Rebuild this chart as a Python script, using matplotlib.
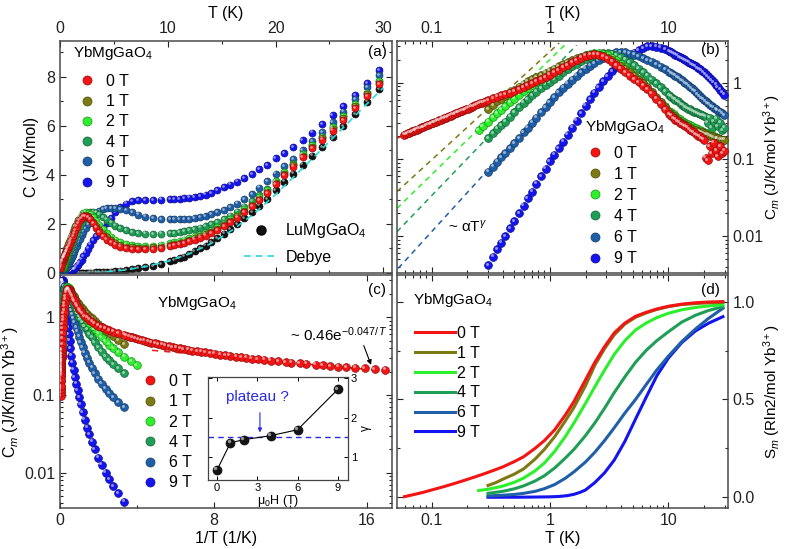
import numpy as np
import matplotlib
matplotlib.use("Agg")
import matplotlib.pyplot as plt
import matplotlib.ticker as mticker
import matplotlib.colors as mcolors
from matplotlib.lines import Line2D
from matplotlib.transforms import offset_copy

plt.rcParams["font.family"] = ["Liberation Sans", "DejaVu Sans"]
plt.rcParams["mathtext.fontset"] = "custom"
plt.rcParams["mathtext.rm"] = "Liberation Sans"
plt.rcParams["mathtext.it"] = "Liberation Sans:italic"
plt.rcParams["font.size"] = 11

# ── data ──────────────────────────────────────────────────────────────────────
fields = ["0 T", "1 T", "2 T", "4 T", "6 T", "9 T"]
colors = ["#f41414", "#7d7a12", "#2cf02c", "#1f9e55", "#1f5fa8", "#1414f0"]

# common temperature grid (K), 0.3 -> 29.6
T_grid = [0.30, 0.33, 0.36, 0.39, 0.42, 0.46, 0.50, 0.55, 0.60, 0.65,
          0.71, 0.77, 0.84, 0.92, 1.00, 1.09, 1.19, 1.30, 1.41, 1.54,
          1.68, 1.83, 2.00, 2.18, 2.37, 2.58, 2.82, 3.07, 3.35, 3.65,
          3.98, 4.33, 4.72, 5.15, 5.61, 6.12, 6.67, 7.27, 7.92, 8.63,
          9.41, 10.2, 10.6, 11.1, 11.5, 12.0, 12.5, 13.0, 13.5, 14.0,
          14.6, 15.2, 15.8, 16.4, 17.1, 17.8, 18.5, 19.2, 20.0, 20.8,
          21.6, 22.5, 23.4, 24.3, 25.3, 26.3, 27.4, 28.5, 29.6]

# magnetic heat capacity C_m (J/K/mol Yb) on T_grid, panels (b) and (c)
cm_0T = [0.595, 0.625, 0.655, 0.685, 0.71, 0.745, 0.78, 0.83, 0.88, 0.93,
         0.99, 1.04, 1.11, 1.19, 1.27, 1.36, 1.46, 1.58, 1.70, 1.84,
         1.98, 2.12, 2.24, 2.31, 2.34, 2.31, 2.22, 2.07, 1.88, 1.70,
         1.53, 1.38, 1.24, 1.12, 1.01, 0.91, 0.82, 0.72, 0.62, 0.53,
         0.45, 0.39, 0.37, 0.345, 0.33, 0.315, 0.30, 0.29, 0.28, 0.27,
         0.26, 0.245, 0.235, 0.225, 0.215, 0.205, 0.20, 0.19, 0.18, 0.105,
         0.097, 0.15, 0.12, 0.165, 0.13, 0.11, 0.15, 0.12, 0.13]
cm_1T = [0.45, 0.51, 0.57, 0.62, 0.67, 0.74, 0.81, 0.89, 0.97, 1.04,
         1.11, 1.18, 1.26, 1.35, 1.44, 1.53, 1.63, 1.74, 1.85, 1.97,
         2.09, 2.19, 2.27, 2.32, 2.34, 2.31, 2.24, 2.12, 1.97, 1.82,
         1.66, 1.52, 1.37, 1.23, 1.10, 0.98, 0.87, 0.76, 0.65, 0.56,
         0.48, 0.42, 0.39, 0.37, 0.35, 0.33, 0.31, 0.30, 0.29, 0.28,
         0.27, 0.26, 0.25, 0.245, 0.24, 0.235, 0.23, 0.225, 0.22, 0.215,
         0.21, 0.205, 0.20, 0.195, 0.19, 0.19, 0.185, 0.18, 0.18]
cm_2T = [0.31, 0.355, 0.40, 0.445, 0.49, 0.555, 0.62, 0.70, 0.78, 0.85,
         0.93, 1.01, 1.09, 1.19, 1.29, 1.40, 1.52, 1.65, 1.78, 1.92,
         2.06, 2.19, 2.30, 2.38, 2.42, 2.42, 2.37, 2.27, 2.12, 1.95,
         1.78, 1.60, 1.43, 1.27, 1.12, 0.98, 0.86, 0.75, 0.64, 0.56,
         0.49, 0.43, 0.41, 0.39, 0.37, 0.35, 0.34, 0.32, 0.31, 0.30,
         0.29, 0.28, 0.27, 0.26, 0.255, 0.25, 0.24, 0.235, 0.23, 0.22,
         0.215, 0.21, 0.205, 0.20, 0.195, 0.19, 0.185, 0.18, 0.18]
cm_4T = [0.19, 0.22, 0.25, 0.28, 0.31, 0.36, 0.41, 0.48, 0.55, 0.61,
         0.69, 0.76, 0.85, 0.94, 1.02, 1.12, 1.24, 1.37, 1.50, 1.64,
         1.78, 1.92, 2.06, 2.19, 2.31, 2.40, 2.45, 2.44, 2.38, 2.28,
         2.15, 2.00, 1.84, 1.68, 1.52, 1.37, 1.23, 1.10, 0.98, 0.87,
         0.77, 0.69, 0.66, 0.62, 0.60, 0.57, 0.55, 0.52, 0.50, 0.48,
         0.46, 0.45, 0.43, 0.42, 0.41, 0.40, 0.39, 0.38, 0.37, 0.36,
         0.30, 0.35, 0.26, 0.31, 0.34, 0.27, 0.30, 0.24, 0.26]
cm_6T = [0.069, 0.08, 0.093, 0.106, 0.12, 0.14, 0.162, 0.19, 0.225, 0.26,
         0.30, 0.35, 0.41, 0.48, 0.56, 0.65, 0.75, 0.86, 0.97, 1.10,
         1.24, 1.37, 1.52, 1.67, 1.81, 1.96, 2.12, 2.27, 2.40, 2.49,
         2.52, 2.48, 2.40, 2.31, 2.21, 2.10, 1.98, 1.87, 1.75, 1.62,
         1.50, 1.39, 1.34, 1.28, 1.23, 1.18, 1.13, 1.08, 1.03, 0.99,
         0.94, 0.89, 0.85, 0.80, 0.76, 0.71, 0.67, 0.63, 0.60, 0.57,
         0.54, 0.52, 0.49, 0.47, 0.45, 0.43, 0.42, 0.40, 0.38]
cm_9T = [0.0042, 0.0054, 0.0067, 0.0082, 0.0100, 0.0126, 0.0156, 0.020, 0.025, 0.031,
         0.038, 0.048, 0.060, 0.076, 0.094, 0.115, 0.14, 0.17, 0.21, 0.26,
         0.32, 0.40, 0.50, 0.61, 0.74, 0.88, 1.04, 1.22, 1.41, 1.60,
         1.80, 2.02, 2.24, 2.46, 2.66, 2.84, 2.97, 3.00, 2.95, 2.86,
         2.72, 2.56, 2.48, 2.39, 2.32, 2.24, 2.16, 2.09, 2.02, 1.96,
         1.89, 1.82, 1.76, 1.70, 1.63, 1.56, 1.49, 1.43, 1.36, 1.29,
         1.22, 1.15, 1.08, 1.01, 0.94, 0.87, 0.81, 0.75, 0.70]

# 0 T dilution-fridge points below 0.3 K
T_low_0T = [0.059, 0.061, 0.063, 0.065, 0.067, 0.069, 0.071, 0.073, 0.075, 0.078,
            0.080, 0.083, 0.085, 0.088, 0.091, 0.094, 0.097, 0.100, 0.103, 0.106,
            0.109, 0.113, 0.116, 0.120, 0.124, 0.128, 0.132, 0.136, 0.140, 0.145,
            0.150, 0.155, 0.160, 0.165, 0.170, 0.176, 0.182, 0.188, 0.195, 0.202,
            0.210, 0.218, 0.226, 0.235, 0.245, 0.255, 0.265, 0.275, 0.287]
cm_low_0T = [0.210, 0.215, 0.219, 0.223, 0.228, 0.232, 0.236, 0.241, 0.245, 0.251,
             0.255, 0.261, 0.265, 0.271, 0.277, 0.283, 0.289, 0.294, 0.300, 0.306,
             0.311, 0.318, 0.324, 0.331, 0.338, 0.345, 0.352, 0.358, 0.365, 0.373,
             0.382, 0.390, 0.398, 0.406, 0.413, 0.423, 0.432, 0.441, 0.451, 0.461,
             0.473, 0.485, 0.496, 0.509, 0.522, 0.536, 0.549, 0.562, 0.578]
T_start_2T = [0.25, 0.27]
cm_start_2T = [0.24, 0.27]

# total heat capacity C (J/K/mol) on T_grid, panel (a)
c_0T = [0.59, 0.625, 0.655, 0.685, 0.71, 0.745, 0.78, 0.83, 0.88, 0.93,
        0.99, 1.05, 1.12, 1.20, 1.29, 1.39, 1.50, 1.62, 1.75, 1.89,
        2.02, 2.14, 2.24, 2.31, 2.33, 2.29, 2.19, 2.03, 1.85, 1.67,
        1.50, 1.36, 1.25, 1.16, 1.08, 1.02, 0.98, 0.96, 0.96, 0.98,
        1.02, 1.09, 1.13, 1.18, 1.23, 1.29, 1.36, 1.44, 1.52, 1.61,
        1.74, 1.90, 2.07, 2.26, 2.48, 2.72, 2.97, 3.26, 3.62, 3.98,
        4.33, 4.72, 5.08, 5.43, 5.80, 6.24, 6.72, 7.20, 7.68]
c_1T = [0.45, 0.51, 0.57, 0.62, 0.67, 0.74, 0.81, 0.89, 0.97, 1.04,
        1.11, 1.18, 1.26, 1.35, 1.45, 1.55, 1.66, 1.78, 1.90, 2.03,
        2.15, 2.26, 2.34, 2.38, 2.37, 2.32, 2.22, 2.08, 1.92, 1.76,
        1.60, 1.46, 1.34, 1.24, 1.15, 1.08, 1.04, 1.02, 1.02, 1.04,
        1.08, 1.14, 1.18, 1.23, 1.28, 1.34, 1.41, 1.49, 1.57, 1.66,
        1.80, 1.95, 2.12, 2.31, 2.53, 2.77, 3.03, 3.32, 3.68, 4.04,
        4.39, 4.78, 5.14, 5.50, 5.88, 6.32, 6.80, 7.28, 7.76]
c_2T = [0.31, 0.355, 0.40, 0.445, 0.49, 0.555, 0.62, 0.70, 0.78, 0.85,
        0.93, 1.01, 1.10, 1.20, 1.31, 1.43, 1.56, 1.70, 1.84, 1.99,
        2.13, 2.26, 2.37, 2.44, 2.47, 2.45, 2.39, 2.28, 2.13, 1.97,
        1.80, 1.63, 1.48, 1.36, 1.26, 1.18, 1.13, 1.10, 1.10, 1.12,
        1.16, 1.22, 1.26, 1.31, 1.36, 1.42, 1.49, 1.56, 1.64, 1.73,
        1.86, 2.01, 2.18, 2.37, 2.59, 2.83, 3.09, 3.38, 3.74, 4.10,
        4.45, 4.84, 5.20, 5.56, 5.95, 6.39, 6.87, 7.35, 7.83]
c_4T = [0.19, 0.22, 0.25, 0.28, 0.31, 0.36, 0.41, 0.48, 0.55, 0.61,
        0.69, 0.76, 0.85, 0.94, 1.03, 1.13, 1.25, 1.38, 1.51, 1.65,
        1.79, 1.93, 2.07, 2.20, 2.32, 2.41, 2.47, 2.49, 2.46, 2.39,
        2.29, 2.17, 2.05, 1.93, 1.83, 1.75, 1.68, 1.63, 1.60, 1.59,
        1.60, 1.62, 1.64, 1.67, 1.70, 1.74, 1.79, 1.85, 1.91, 1.98,
        2.08, 2.20, 2.34, 2.50, 2.70, 2.92, 3.16, 3.42, 3.76, 4.10,
        4.45, 4.84, 5.20, 5.55, 5.94, 6.38, 6.86, 7.34, 7.83]
c_6T = [0.07, 0.08, 0.093, 0.106, 0.12, 0.14, 0.162, 0.19, 0.225, 0.26,
        0.30, 0.35, 0.41, 0.48, 0.56, 0.65, 0.75, 0.86, 0.98, 1.11,
        1.25, 1.39, 1.54, 1.69, 1.84, 1.99, 2.14, 2.28, 2.41, 2.52,
        2.60, 2.64, 2.65, 2.64, 2.60, 2.55, 2.47, 2.38, 2.30, 2.24,
        2.20, 2.18, 2.18, 2.18, 2.19, 2.21, 2.24, 2.28, 2.33, 2.39,
        2.47, 2.57, 2.69, 2.83, 3.00, 3.20, 3.48, 3.74, 4.05, 4.35,
        4.64, 5.00, 5.37, 5.74, 6.14, 6.57, 7.07, 7.57, 8.05]
c_9T = [0.004, 0.005, 0.007, 0.008, 0.01, 0.013, 0.016, 0.02, 0.025, 0.031,
        0.038, 0.048, 0.06, 0.076, 0.094, 0.115, 0.14, 0.17, 0.21, 0.27,
        0.34, 0.43, 0.55, 0.68, 0.83, 0.99, 1.16, 1.33, 1.50, 1.67,
        1.85, 2.04, 2.25, 2.47, 2.67, 2.83, 2.93, 2.97, 2.98, 2.98,
        2.99, 3.00, 3.01, 3.02, 3.04, 3.07, 3.10, 3.14, 3.19, 3.25,
        3.38, 3.50, 3.60, 3.72, 3.87, 4.02, 4.22, 4.40, 4.68, 4.88,
        5.12, 5.42, 5.72, 6.05, 6.42, 6.80, 7.25, 7.72, 8.25]
c_lu = [0.0, 0.0, 0.0, 0.0, 0.0, 0.0, 0.0, 0.0, 0.0, 0.0,
        0.0, 0.0, 0.0, 0.0, 0.0, 0.001, 0.001, 0.001, 0.002, 0.002,
        0.003, 0.004, 0.005, 0.006, 0.008, 0.010, 0.013, 0.017, 0.022, 0.028,
        0.036, 0.046, 0.060, 0.075, 0.095, 0.12, 0.15, 0.19, 0.235, 0.29,
        0.37, 0.47, 0.53, 0.60, 0.67, 0.77, 0.88, 1.00, 1.12, 1.25,
        1.42, 1.60, 1.80, 2.00, 2.24, 2.48, 2.74, 3.02, 3.38, 3.72,
        4.05, 4.42, 4.78, 5.12, 5.52, 5.98, 6.48, 6.98, 7.48]
T_a_low_0T = [0.06, 0.10, 0.15, 0.20, 0.25]
c_a_low_0T = [0.21, 0.29, 0.38, 0.46, 0.53]

T_debye = [0, 2, 4, 6, 8, 10, 12, 14, 16, 18, 20, 22, 24, 26, 28, 30]
c_debye = [0, 0.004, 0.035, 0.12, 0.27, 0.48, 0.78, 1.2, 1.75, 2.42,
           3.2, 4.05, 4.92, 5.8, 6.68, 7.55]

# power-law fits C_m ~ alpha T^gamma (end points), panel (b)
fit_T = {"0 T": [0.0505, 0.062], "1 T": [0.051, 1.2], "2 T": [0.051, 1.38],
         "4 T": [0.051, 1.68], "6 T": [0.0523, 0.29]}
fit_cm = {"0 T": [0.188, 0.215], "1 T": [0.038, 3.3], "2 T": [0.023, 3.26],
          "4 T": [0.0114, 3.1], "6 T": [0.0038, 0.069]}
# exponential fit 0.46 exp(-0.047/T), panel (c)
exp_fit_x = [4.8, 17.3]
exp_fit_y = [0.375, 0.20]

# magnetic entropy (R ln2 / mol Yb), panel (d)
S_T = {
    "0 T": [0.059, 0.07, 0.085, 0.1, 0.12, 0.15, 0.18, 0.22, 0.27, 0.33, 0.4, 0.5, 0.6, 0.75,
            0.9, 1.1, 1.35, 1.6, 2.0, 2.4, 2.9, 3.5, 4.3, 5.3, 6.5, 8, 10, 13, 17, 22, 29],
    "1 T": [0.3, 0.35, 0.4, 0.5, 0.6, 0.75, 0.9, 1.1, 1.35, 1.6, 2.0, 2.4, 2.9, 3.5, 4.3,
            5.3, 6.5, 8, 10, 13, 17, 22, 29],
    "2 T": [0.25, 0.3, 0.35, 0.4, 0.5, 0.6, 0.75, 0.9, 1.1, 1.35, 1.6, 2.0, 2.4, 2.9, 3.5,
            4.3, 5.3, 6.5, 8, 10, 13, 17, 22, 29],
    "4 T": [0.3, 0.4, 0.5, 0.6, 0.75, 0.9, 1.1, 1.35, 1.6, 2.0, 2.4, 2.9, 3.5, 4.3, 5.3,
            6.5, 8, 10, 13, 17, 22, 29],
    "6 T": [0.3, 0.4, 0.5, 0.6, 0.75, 0.9, 1.1, 1.35, 1.6, 2.0, 2.4, 2.9, 3.5, 4.3, 5.3,
            6.5, 8, 10, 13, 17, 22, 29],
    "9 T": [0.3, 0.5, 0.75, 1.0, 1.2, 1.4, 1.6, 1.8, 2.0, 2.4, 2.9, 3.5, 4.3, 5.3, 6.5,
            8, 10, 13, 17, 22, 29],
}
S_val = {
    "0 T": [0.003, 0.013, 0.025, 0.037, 0.05, 0.067, 0.082, 0.099, 0.117, 0.136, 0.155, 0.182,
            0.207, 0.25, 0.29, 0.345, 0.42, 0.49, 0.60, 0.69, 0.77, 0.84, 0.89, 0.925, 0.945,
            0.962, 0.976, 0.987, 0.994, 0.998, 1.0],
    "1 T": [0.06, 0.075, 0.092, 0.118, 0.145, 0.195, 0.245, 0.31, 0.39, 0.46, 0.57, 0.675,
            0.76, 0.83, 0.885, 0.92, 0.942, 0.96, 0.974, 0.985, 0.99, 0.994, 0.996],
    "2 T": [0.034, 0.041, 0.049, 0.057, 0.076, 0.098, 0.135, 0.175, 0.235, 0.31, 0.38, 0.48,
            0.565, 0.65, 0.73, 0.80, 0.855, 0.89, 0.918, 0.94, 0.958, 0.97, 0.978, 0.984],
    "4 T": [0.02, 0.03, 0.043, 0.058, 0.083, 0.11, 0.15, 0.20, 0.245, 0.315, 0.38, 0.455,
            0.535, 0.615, 0.69, 0.75, 0.80, 0.845, 0.895, 0.93, 0.955, 0.974],
    "6 T": [0.007, 0.01, 0.014, 0.02, 0.03, 0.044, 0.065, 0.097, 0.13, 0.18, 0.23, 0.29,
            0.355, 0.43, 0.50, 0.575, 0.65, 0.72, 0.795, 0.86, 0.915, 0.966],
    "9 T": [0.0, 0.0, 0.001, 0.002, 0.004, 0.008, 0.015, 0.025, 0.037, 0.075, 0.125, 0.19,
            0.285, 0.40, 0.51, 0.62, 0.71, 0.79, 0.85, 0.89, 0.923],
}

# inset: exponent gamma vs field
inset_field = [0, 1, 2, 4, 6, 9]
inset_gamma = [0.68, 1.37, 1.45, 1.55, 1.70, 2.72]
gamma_plateau = 1.51

cm = {"0 T": cm_0T, "1 T": cm_1T, "2 T": cm_2T, "4 T": cm_4T, "6 T": cm_6T, "9 T": cm_9T}
ctot = {"0 T": c_0T, "1 T": c_1T, "2 T": c_2T, "4 T": c_4T, "6 T": c_6T, "9 T": c_9T}

T_b = {f: np.array(T_grid) for f in fields}
cm_b = {f: np.array(cm[f]) for f in fields}
T_b["0 T"] = np.r_[T_low_0T, T_grid]
cm_b["0 T"] = np.r_[cm_low_0T, cm_0T]
T_b["2 T"] = np.r_[T_start_2T, T_grid]
cm_b["2 T"] = np.r_[cm_start_2T, cm_2T]

T_a = {f: np.array(T_grid) for f in fields}
c_a = {f: np.array(ctot[f]) for f in fields}
T_a["0 T"] = np.r_[T_a_low_0T, T_grid]
c_a["0 T"] = np.r_[c_a_low_0T, c_0T]
T_a["2 T"] = np.r_[T_start_2T, T_grid]
c_a["2 T"] = np.r_[cm_start_2T, c_2T]

# ── figure ────────────────────────────────────────────────────────────────────
fig = plt.figure(figsize=(7.87, 5.49), dpi=100)
ax_a = fig.add_axes([0.0762, 0.5027, 0.4219, 0.4226])
ax_b = fig.add_axes([0.5044, 0.5027, 0.4206, 0.4226])
ax_c = fig.add_axes([0.0762, 0.0747, 0.4219, 0.4244])
ax_d = fig.add_axes([0.5044, 0.0747, 0.4206, 0.4244])

TICK_FS = 11.5
LEG_FS = 11.5


def shade(c, f):
    r, g, b = mcolors.to_rgb(c)
    return (r * f, g * f, b * f)


def balls(ax, x, y, c, ms, z):
    ax.plot(x, y, "o", ms=ms, mfc=c, mec=shade(c, 0.6), mew=0.5, ls="none", zorder=z)
    hl = offset_copy(ax.transData, fig=fig, x=-0.18 * ms, y=0.18 * ms, units="points")
    ax.plot(x, y, "o", ms=0.38 * ms, mfc="white", mec="none", alpha=0.55,
            ls="none", transform=hl, zorder=z + 0.1)


def style(ax):
    ax.tick_params(which="both", direction="in", top=True, bottom=True, left=True,
                   right=True, labelsize=TICK_FS, width=0.8, colors="#222222")
    ax.tick_params(which="major", length=4)
    ax.tick_params(which="minor", length=2)
    for s in ax.spines.values():
        s.set_linewidth(1.1)
        s.set_color("#4a4a4a")


def ball_handles():
    return [Line2D([], [], marker="o", ls="none", ms=6.5, mfc=c, mec=shade(c, 0.6), mew=0.5)
            for c in colors]


fmt = mticker.FuncFormatter(lambda v, p: f"{v:g}")
title_txt = "YbMgGaO$_4$"

# (a) total heat capacity
balls(ax_a, T_grid, c_lu, "#111111", 5, 2)
ax_a.plot(T_debye, c_debye, ls=(0, (4, 3)), color="#22dddd", lw=1.2, zorder=2.5)
for i, f in reversed(list(enumerate(fields))):
    balls(ax_a, T_a[f], c_a[f], colors[i], 5, 3 + (5 - i))
ax_a.set_xlim(0, 30.8)
ax_a.set_ylim(0, 9.45)
ax_a.xaxis.set_major_locator(mticker.MultipleLocator(10))
ax_a.xaxis.set_minor_locator(mticker.MultipleLocator(5))
ax_a.yaxis.set_major_locator(mticker.MultipleLocator(2))
ax_a.yaxis.set_minor_locator(mticker.MultipleLocator(1))
style(ax_a)
ax_a.tick_params(axis="x", labeltop=True, labelbottom=False)
ax_a.xaxis.set_label_position("top")
ax_a.set_xlabel("T (K)", fontsize=11.5, labelpad=2)
ax_a.set_ylabel("C (J/K/mol)", fontsize=11.5, labelpad=5)
ax_a.text(0.04, 0.948, title_txt, transform=ax_a.transAxes, fontsize=11, va="center")
ax_a.text(0.955, 0.952, "(a)", transform=ax_a.transAxes, fontsize=11, ha="center", va="center")
leg = ax_a.legend(ball_handles(), fields, loc="upper left", bbox_to_anchor=(0.057, 0.858),
                  frameon=False, fontsize=LEG_FS, handlelength=1.0, handletextpad=0.7,
                  labelspacing=0.33, borderpad=0, borderaxespad=0)
ax_a.add_artist(leg)
h_lu = [Line2D([], [], marker="o", ls="none", ms=6.5, mfc="#111111", mec="black"),
        Line2D([], [], ls=(0, (4, 3)), color="#22dddd", lw=1.2)]
ax_a.legend(h_lu, ["LuMgGaO$_4$", "Debye"], loc="lower right", bbox_to_anchor=(0.925, 0.035),
            frameon=False, fontsize=LEG_FS, handlelength=2.1, handletextpad=0.5,
            labelspacing=0.6, borderpad=0, borderaxespad=0)

# (b) magnetic heat capacity, log-log
for f in ["0 T", "1 T", "2 T", "4 T", "6 T"]:
    c = colors[fields.index(f)]
    ax_b.plot(fit_T[f], fit_cm[f], ls=(0, (3.5, 3)), color=c, lw=1.1, zorder=2)
for i, f in reversed(list(enumerate(fields))):
    balls(ax_b, T_b[f], cm_b[f], colors[i], 5.6, 3 + (5 - i))
ax_b.set_xscale("log")
ax_b.set_yscale("log")
ax_b.set_xlim(0.051, 32)
ax_b.set_ylim(0.0033, 3.5)
style(ax_b)
ax_b.xaxis.set_major_formatter(fmt)
ax_b.yaxis.set_major_formatter(fmt)
ax_b.tick_params(axis="x", labeltop=True, labelbottom=False)
ax_b.tick_params(axis="y", labelright=True, labelleft=False)
ax_b.xaxis.set_label_position("top")
ax_b.yaxis.set_label_position("right")
ax_b.set_xlabel("T (K)", fontsize=11.5, labelpad=2)
ax_b.set_ylabel("C$_m$ (J/K/mol Yb$^{3+}$)", fontsize=11)
ax_b.yaxis.set_label_coords(1.102, 0.5)
ax_b.text(0.154, 0.198, r"~ αT$^\gamma$", transform=ax_b.transAxes, fontsize=11, va="center")
ax_b.text(0.946, 0.961, "(b)", transform=ax_b.transAxes, fontsize=11, ha="center", va="center")
ax_b.text(0.568, 0.628, title_txt, transform=ax_b.transAxes, fontsize=11, va="center")
ax_b.legend(ball_handles(), fields, loc="upper left", bbox_to_anchor=(0.574, 0.548),
            frameon=False, fontsize=LEG_FS, handlelength=1.0, handletextpad=0.7,
            labelspacing=0.38, borderpad=0, borderaxespad=0)

# (c) C_m vs 1/T
for i, f in reversed(list(enumerate(fields))):
    balls(ax_c, 1.0 / T_b[f], cm_b[f], colors[i], 5.6, 3 + (5 - i))
ax_c.plot(exp_fit_x, exp_fit_y, ls=(0, (4, 4)), color=colors[0], lw=1.1, zorder=2)
ax_c.set_yscale("log")
ax_c.set_xlim(0, 17.3)
ax_c.set_ylim(0.0035, 3.5)
ax_c.xaxis.set_major_locator(mticker.MultipleLocator(8))
ax_c.xaxis.set_minor_locator(mticker.MultipleLocator(4))
style(ax_c)
ax_c.yaxis.set_major_formatter(fmt)
ax_c.set_xlabel("1/T (1/K)", fontsize=11.5, labelpad=2)
ax_c.set_ylabel("C$_m$ (J/K/mol Yb$^{3+}$)", fontsize=11.5, labelpad=2)
ax_c.text(0.292, 0.88, title_txt, transform=ax_c.transAxes, fontsize=11, va="center")
ax_c.text(0.955, 0.936, "(c)", transform=ax_c.transAxes, fontsize=11, ha="center", va="center")
ax_c.text(0.693, 0.745, "~ 0.46e$^{-0.047/\\,T}$", transform=ax_c.transAxes, fontsize=11,
          va="center")
ax_c.annotate("", xy=(0.94, 0.603), xytext=(0.912, 0.708), xycoords="axes fraction",
              arrowprops=dict(arrowstyle="-|>", color="black", lw=0.8, mutation_scale=7))
ax_c.legend(ball_handles(), fields, loc="upper left", bbox_to_anchor=(0.247, 0.575),
            frameon=False, fontsize=LEG_FS, handlelength=1.0, handletextpad=0.7,
            labelspacing=0.33, borderpad=0, borderaxespad=0)

# inset of (c): gamma vs field
ax_in = fig.add_axes([0.2643, 0.1257, 0.1779, 0.1881])
ax_in.axhline(gamma_plateau, ls=(0, (4, 3)), color="#2a2ae8", lw=1.0, zorder=1)
ax_in.plot(inset_field, inset_gamma, "-", color="black", lw=0.8, zorder=2)
balls(ax_in, inset_field, inset_gamma, "#151515", 6.5, 3)
ax_in.set_xlim(-0.67, 9.76)
ax_in.set_ylim(0.43, 3.04)
ax_in.xaxis.set_major_locator(mticker.MultipleLocator(3))
ax_in.yaxis.set_major_locator(mticker.MultipleLocator(1))
ax_in.tick_params(which="both", direction="in", top=True, right=True, left=True,
                  labelsize=8, length=3, width=0.7, pad=2)
ax_in.tick_params(axis="y", labelright=True, labelleft=False)
for s in ax_in.spines.values():
    s.set_linewidth(0.9)
    s.set_color("#444444")
ax_in.yaxis.set_label_position("right")
ax_in.set_ylabel("γ", fontsize=8.5, labelpad=2, rotation=90)
ax_in.set_xlabel("μ$_0$H (T)", fontsize=9, labelpad=0)
ax_in.text(0.13, 0.80, "plateau ?", transform=ax_in.transAxes, fontsize=11,
           color="#2a2ae8", va="center")
ax_in.annotate("", xy=(3.2, 1.56), xytext=(3.2, 2.2),
               arrowprops=dict(arrowstyle="-|>", color="#2a2ae8", lw=0.8, mutation_scale=6))

# (d) entropy
for i, f in reversed(list(enumerate(fields))):
    ax_d.plot(S_T[f], S_val[f], "-", color=colors[i], lw=2.2, zorder=3 + (5 - i))
ax_d.set_xscale("log")
ax_d.set_xlim(0.051, 32)
ax_d.set_ylim(-0.055, 1.136)
ax_d.yaxis.set_major_locator(mticker.MultipleLocator(0.5))
ax_d.yaxis.set_minor_locator(mticker.MultipleLocator(0.25))
ax_d.yaxis.set_major_formatter(mticker.FormatStrFormatter("%.1f"))
style(ax_d)
ax_d.xaxis.set_major_formatter(fmt)
ax_d.tick_params(axis="y", labelright=True, labelleft=False)
ax_d.yaxis.set_label_position("right")
ax_d.set_xlabel("T (K)", fontsize=11.5, labelpad=2)
ax_d.set_ylabel("S$_m$ (Rln2/mol Yb$^{3+}$)", fontsize=11)
ax_d.yaxis.set_label_coords(1.102, 0.5)
ax_d.text(0.048, 0.893, title_txt, transform=ax_d.transAxes, fontsize=11, va="center")
ax_d.text(0.946, 0.936, "(d)", transform=ax_d.transAxes, fontsize=11, ha="center", va="center")
h_d = [Line2D([], [], color=c, lw=2.2) for c in colors]
ax_d.legend(h_d, fields, loc="upper left", bbox_to_anchor=(0.054, 0.781), frameon=False,
            fontsize=LEG_FS, handlelength=2.5, handletextpad=0.12, labelspacing=0.3,
            borderpad=0, borderaxespad=0)

fig.savefig("out.png", dpi=100)
